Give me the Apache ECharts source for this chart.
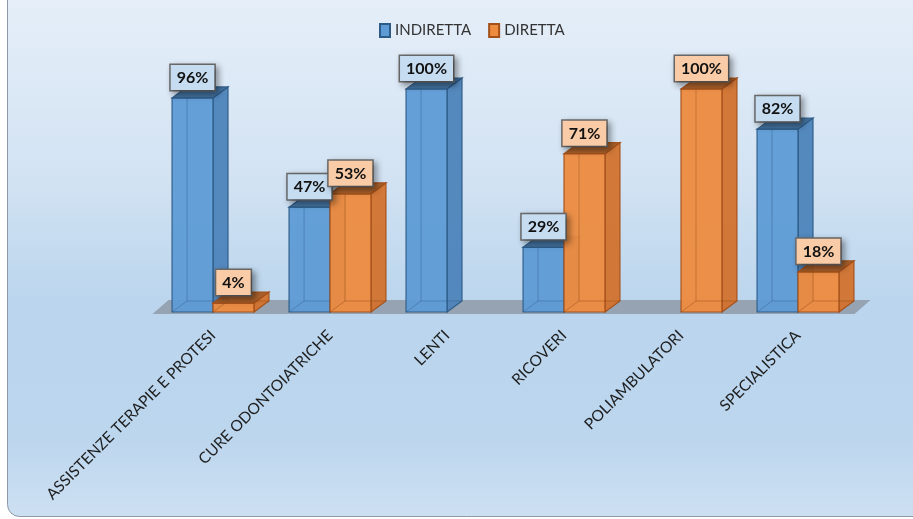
<!DOCTYPE html>
<html><head><meta charset="utf-8">
<script src="https://cdn.jsdelivr.net/npm/echarts@6/dist/echarts.min.js"></script>
<style>html,body{margin:0;padding:0;background:#fff}#c{width:913px;height:519px}</style>
</head><body><div id="c"></div>
<script>
const categories = ['ASSISTENZE TERAPIE E PROTESI','CURE ODONTOIATRICHE','LENTI','RICOVERI','POLIAMBULATORI','SPECIALISTICA'];
const seriesNames = ['INDIRETTA','DIRETTA'];
const indiretta = [96, 47, 100, 29, null, 82];
const diretta = [4, 53, null, 71, 100, 18];
const yMax = 100;

const DX = 15, DY = 11;
const palette = [
  {front:'#5e9bd5', side:'#4d84bb', top:'#3c6d9b', stroke:'#2d5b87', inner:'rgba(40,80,120,0.35)', label:'#c6ddf1'},
  {front:'#ed8b3f', side:'#d2722d', top:'#a95b21', stroke:'#a4501a', inner:'rgba(130,60,15,0.35)', label:'#f9cba6'}
];

function barGeom(api, s){
  const i = api.value(0), v = api.value(1);
  if (v == null || isNaN(v)) return null;
  const base = api.coord([i, 0]);
  const top = api.coord([i, v]);
  const band = api.size([1, 0])[0];
  const bw = band * 0.35;
  const xl = base[0] + (s === 0 ? -bw : 0);
  return {xl, xr: xl + bw, y0: base[1], y1: top[1]};
}

function makeBarSeries(s, arr){
  const c = palette[s];
  return {
    name: seriesNames[s], type: 'custom', z: 3 + s,
    itemStyle: {color: c.front, borderColor: c.stroke, borderWidth: 1.5},
    data: arr.map((v, i) => [i, v]),
    encode: {x: 0, y: 1},
    renderItem: function(params, api){
      const g = barGeom(api, s);
      if (!g) return;
      const {xl, xr, y0, y1} = g;
      const lw = 1.2;
      return {type: 'group', children: [
        {type: 'polygon', shape: {points: [[xr, y1], [xr + DX, y1 - DY], [xr + DX, y0 - DY], [xr, y0]]},
          style: {fill: c.side, stroke: c.stroke, lineWidth: lw, opacity: 0.95}},
        {type: 'rect', shape: {x: xl, y: y1, width: xr - xl, height: y0 - y1},
          style: {fill: c.front, stroke: c.stroke, lineWidth: lw, opacity: 0.95}},
        {type: 'polyline', shape: {points: [[xl + DX, y1 - DY], [xl + DX, y0 - DY], [xr + DX, y0 - DY]]},
          style: {fill: null, stroke: c.inner, lineWidth: 1}},
        {type: 'line', shape: {x1: xl, y1: y0, x2: xl + DX, y2: y0 - DY},
          style: {stroke: c.inner, lineWidth: 1}},
        {type: 'polygon', shape: {points: [[xl, y1], [xl + DX, y1 - DY], [xr + DX, y1 - DY], [xr, y1]]},
          style: {fill: c.top, stroke: c.stroke, lineWidth: lw, opacity: 0.95}}
      ]};
    }
  };
}

const labelData = [];
indiretta.forEach((v, i) => { if (v != null) labelData.push([i, v, 0]); });
diretta.forEach((v, i) => { if (v != null) labelData.push([i, v, 1]); });

const option = {
  animation: false,
  backgroundColor: '#ffffff',
  graphic: [{
    type: 'rect', z: -10, left: 7, top: -12,
    shape: {width: 940, height: 528, r: [0, 0, 0, 12]},
    style: {
      fill: new echarts.graphic.LinearGradient(0, 0, 0, 1, [
        {offset: 0, color: '#e6eff9'},
        {offset: 0.35, color: '#d3e3f3'},
        {offset: 0.6, color: '#bad5ed'},
        {offset: 0.85, color: '#bcd6ee'},
        {offset: 1, color: '#cde0f2'}
      ]),
      stroke: '#8d99a6', lineWidth: 1
    }
  }],
  legend: {
    data: seriesNames, top: 18, left: 374,
    icon: 'rect', itemWidth: 10, itemHeight: 13, itemGap: 17,
    textStyle: {fontFamily: 'Lato', fontSize: 15, color: '#333'}
  },
  grid: {left: 154.5, right: 56.5, top: 89, bottom: 207},
  xAxis: {
    type: 'category', data: categories,
    axisLine: {show: false}, axisTick: {show: false},
    axisLabel: {interval: 0, rotate: 45, margin: 21, fontFamily: 'Lato', fontSize: 15.5, color: '#1e1e1e'}
  },
  yAxis: {type: 'value', min: 0, max: yMax, show: false, splitLine: {show: false}},
  series: [
    {
      type: 'custom', z: 1, silent: true, data: [[0, 0]], encode: {x: 0, y: 1},
      renderItem: function(params, api){
        const cs = params.coordSys;
        const yb = cs.y + cs.height + 2;
        const xa = cs.x - 2, xb = cs.x + cs.width - 2;
        return {type: 'polygon', shape: {points: [[xa, yb], [xa + DX + 1, yb - DY - 3], [xb + DX + 1, yb - DY - 3], [xb, yb]]},
          style: {fill: 'rgba(140,150,162,0.8)'}};
      }
    },
    makeBarSeries(0, indiretta),
    makeBarSeries(1, diretta),
    {
      type: 'custom', z: 10, silent: true, data: labelData, encode: {x: 0, y: 1},
      renderItem: function(params, api){
        const s = api.value(2);
        const g = barGeom(api, s);
        if (!g) return;
        return {type: 'text', x: (g.xl + g.xr) / 2, y: g.y1 - 8,
          style: {
            text: api.value(1) + '%', font: 'bold 16px Lato', fill: '#111',
            align: 'center', verticalAlign: 'bottom',
            backgroundColor: palette[s].label, borderColor: '#6a6a6a', borderWidth: 1.5,
            padding: [5, 6, 4, 6],
            shadowColor: 'rgba(0,0,0,0.35)', shadowBlur: 6, shadowOffsetX: 3, shadowOffsetY: 3
          }};
      }
    }
  ]
};
const chart = echarts.init(document.getElementById('c'), null, {renderer: 'canvas'});
chart.setOption(option);
</script>
</body></html>
